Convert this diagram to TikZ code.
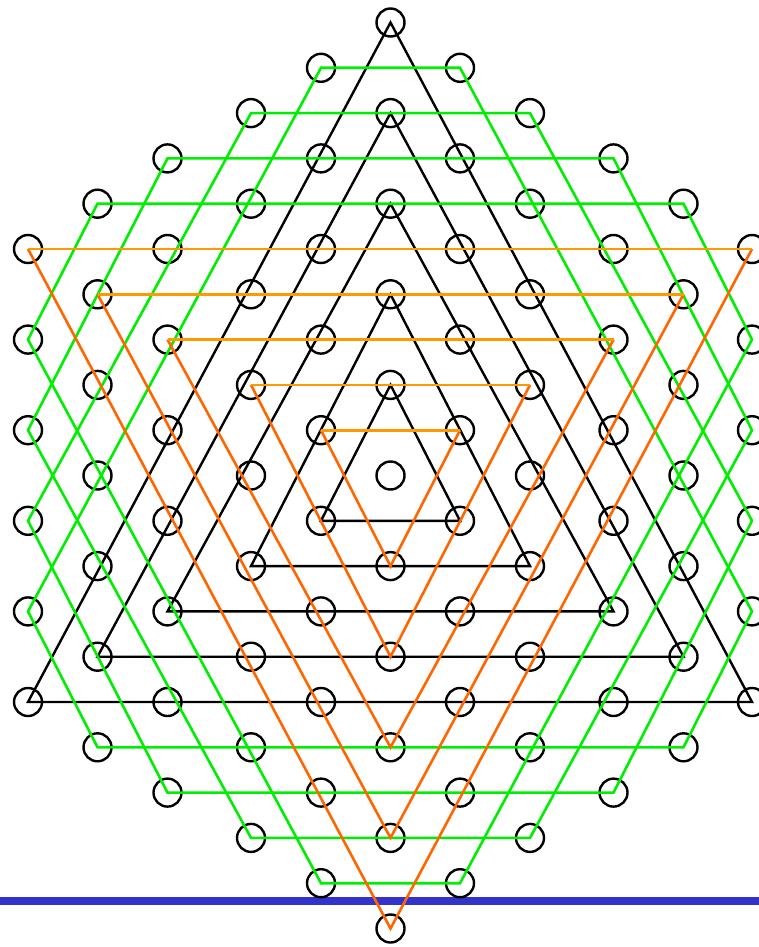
\documentclass[tikz,border=0pt]{standalone}
\definecolor{grn}{RGB}{0,238,0}
\definecolor{orH}{RGB}{255,153,0}
\definecolor{orD}{RGB}{255,102,0}
\definecolor{blu}{RGB}{51,51,204}
\tikzset{
 site/.style={circle,draw=black,line width=2.4pt,minimum size=28pt,inner sep=0pt,outer sep=0pt},
 tri/.style={draw=black,line width=2.4pt},
 hexa/.style={draw=grn,line width=2.6pt},
 otop/.style={draw=orH,line width=2.6pt},
 oside/.style={draw=orD,line width=2.6pt},
 band/.style={draw=blu,line width=7.7pt},
}
\begin{document}
\begin{tikzpicture}[x=1pt,y=-1pt]
\useasboundingbox (0,0) rectangle (759,947);
\coordinate (bl) at (0,901);
\coordinate (br) at (759,901);
\draw[band] (bl) -- (br);
\foreach \i in {0,...,10}{
 \foreach \j in {0,...,20}{
  \pgfmathtruncatemacro\ok{(mod(\i+\j,2)==1)&&(abs(\i-5)+abs(\j-10)<=10)}
  \ifnum\ok=1
   \pgfmathsetmacro\xx{{28,97.5,167.5,251,321,390.5,460,530,613.5,683.5,752}[\i]}
   \pgfmathsetmacro\yy{475.5+45.3*(\j-10)}
   \node[site] (v\i-\j) at (\xx,\yy) {};
  \fi
 }
}
% black up-pointing triangles
\foreach \k in {1,...,5}{
 \pgfmathtruncatemacro\a{5-\k}
 \pgfmathtruncatemacro\b{5+\k}
 \pgfmathtruncatemacro\lo{10+\k}
 \pgfmathtruncatemacro\hi{10-2*\k}
 \draw[tri] (v\a-\lo.center) -- (v5-\hi.center) -- (v\b-\lo.center) -- cycle;
}
% green hexagons
\draw[hexa] (v4-1.center) -- (v6-1.center) -- (v10-13.center) -- (v9-16.center) -- (v1-16.center) -- (v0-13.center) -- cycle;
\draw[hexa] (v4-19.center) -- (v6-19.center) -- (v10-7.center) -- (v9-4.center) -- (v1-4.center) -- (v0-7.center) -- cycle;
\draw[hexa] (v3-2.center) -- (v7-2.center) -- (v10-11.center) -- (v8-17.center) -- (v2-17.center) -- (v0-11.center) -- cycle;
\draw[hexa] (v3-18.center) -- (v7-18.center) -- (v10-9.center) -- (v8-3.center) -- (v2-3.center) -- (v0-9.center) -- cycle;
% orange down-pointing triangles
\foreach \k in {1,...,5}{
 \pgfmathtruncatemacro\a{5-\k}
 \pgfmathtruncatemacro\b{5+\k}
 \pgfmathtruncatemacro\m{10-\k}
 \pgfmathtruncatemacro\n{10+2*\k}
 \draw[oside] (v\b-\m.center) -- (v5-\n.center) -- (v\a-\m.center);
 \draw[otop] (v\a-\m.center) -- (v\b-\m.center);
}
\end{tikzpicture}
\end{document}
